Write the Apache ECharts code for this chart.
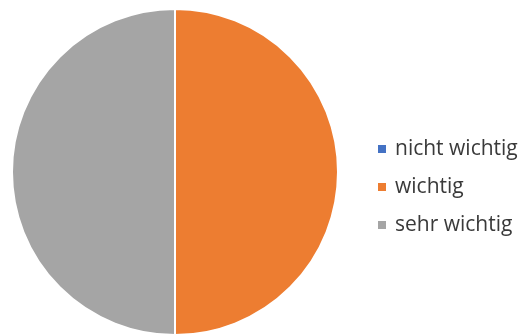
<!DOCTYPE html>
<html lang="de">
<head>
    <meta charset="UTF-8">
    <title>Wichtigkeit</title>
    <script type="text/javascript" src="https://cdn.jsdelivr.net/npm/echarts@6/dist/echarts.min.js"></script>
    <style>
        html, body { margin: 0; padding: 0; background: #fff; }
        #main { width: 525px; height: 334px; }
    </style>
</head>
<body>
<div id="main"></div>
<script type="text/javascript">
    // Kategorien und Werte
    var categories = ['nicht wichtig', 'wichtig', 'sehr wichtig'];
    var values = [0, 50, 50];
    var colors = ['#4472C4', '#ED7D31', '#A5A5A5'];

    var pieData = [];
    for (var i = 0; i < categories.length; i++) {
        pieData.push({ name: categories[i], value: values[i], itemStyle: { color: colors[i] } });
    }

    const myChart = echarts.init(document.getElementById('main'), null, { renderer: 'canvas' });
    myChart.setOption({
        animation: false,
        legend: {
            orient: 'vertical',
            left: 371,
            top: 133,
            itemWidth: 10,
            itemHeight: 10,
            itemGap: 16,
            icon: 'rect',
            data: categories,
            textStyle: {
                fontFamily: 'Open Sans',
                fontSize: 21,
                lineHeight: 22,
                color: '#3a3a3a',
                padding: [0, 0, 0, 3]
            }
        },
        series: [{
            type: 'pie',
            center: [175, 172],
            radius: 163,
            startAngle: 90,
            clockwise: true,
            label: { show: false },
            labelLine: { show: false },
            itemStyle: { borderColor: '#fff', borderWidth: 2 },
            emphasis: { disabled: true },
            data: pieData
        }]
    });
</script>
</body>
</html>
